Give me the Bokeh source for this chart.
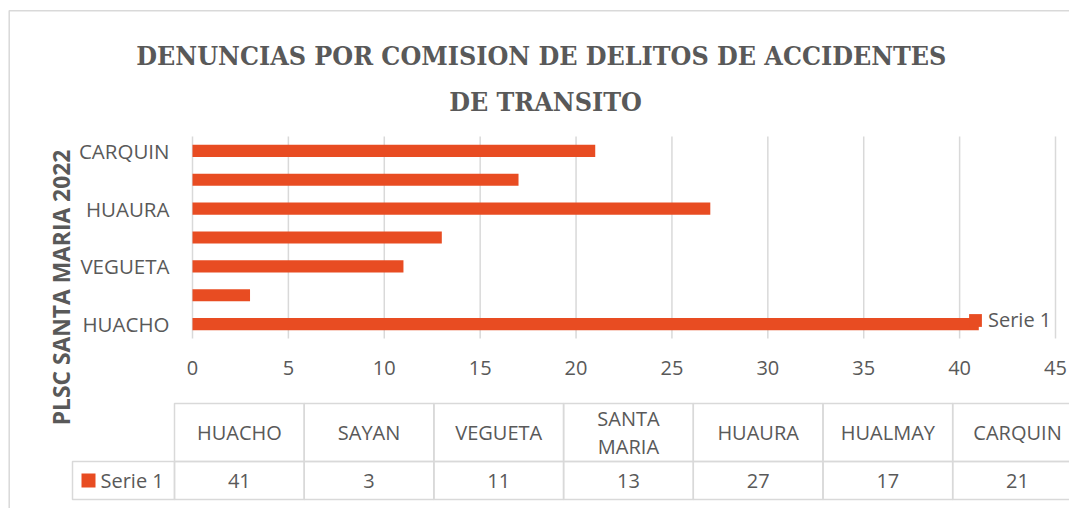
import math
from bokeh.plotting import figure
from bokeh.models import (Range1d, Label, ColumnDataSource, Legend, LegendItem, FixedTicker)
from bokeh.embed import file_html
from bokeh.resources import INLINE
from bokeh.core.properties import value

# ---------------- data ----------------
categories = ["HUACHO", "SAYAN", "VEGUETA", "SANTA MARIA", "HUAURA", "HUALMAY", "CARQUIN"]
values = [41, 3, 11, 13, 27, 17, 21]
series_name = "Serie 1"
x_ticks = [0, 5, 10, 15, 20, 25, 30, 35, 40, 45]
title_lines = ["DENUNCIAS POR COMISION DE DELITOS  DE ACCIDENTES", "DE TRANSITO"]
y_title = "PLSC SANTA MARIA 2022"

# ---------------- styles ----------------
BAR = "#E84C22"
TXT = "#595959"
GRID = "#D9D9D9"
FONT = "Open Sans"
TITLE_FONT = "DejaVu Serif Condensed"

n = len(categories)
pos = list(range(n))

W, H = 1069, 508
# plot area of the bars on the page (px)
PL, PR, PT, PB = 192.0, 1055.0, 136.0, 338.0
xmax = x_ticks[-1]
ux = (PR - PL) / xmax            # px per value unit
uy = (PB - PT) / n               # px per category
x_rng = Range1d((0 - PL) / ux, (W - PL) / ux)
y_rng = Range1d(-0.5 - (H - PB) / uy, -0.5 + PB / uy)

p = figure(width=W, height=H, output_backend="svg", toolbar_location=None,
           x_range=x_rng, y_range=y_rng, min_border=0, title=None)
p.extra_x_ranges = {"pg": Range1d(0, W)}
p.extra_y_ranges = {"pg": Range1d(-H, 0)}
p.outline_line_color = None
p.background_fill_color = "white"
p.border_fill_color = "white"
p.xgrid.visible = False
p.ygrid.visible = False

# vertical gridlines over the bar area
p.segment(x0=x_ticks, x1=x_ticks, y0=[-0.5] * len(x_ticks), y1=[n - 0.5] * len(x_ticks),
          line_color=GRID, line_width=1.5)

src = ColumnDataSource(dict(y=pos, val=values, cat=categories))
bars = p.hbar(y="y", left=0, right="val", height=0.42, source=src,
              fill_color=BAR, line_color=None)

# axes (fixed inside the canvas)
xa = p.xaxis[0]
xa.fixed_location = -0.5
xa.ticker = FixedTicker(ticks=x_ticks, minor_ticks=[])
xa.axis_line_color = None
xa.major_tick_line_color = None
xa.minor_tick_line_color = None
xa.major_tick_out = 0
xa.major_tick_in = 0
xa.major_label_standoff = 22
xa.major_label_text_font = FONT
xa.major_label_text_font_size = "20px"
xa.major_label_text_color = TXT

ya = p.yaxis[0]
ya.fixed_location = 0
ya.ticker = FixedTicker(ticks=[i for i in pos if i % 2 == 0], minor_ticks=[])
ya.major_label_overrides = {i: categories[i] for i in pos if i % 2 == 0}
ya.axis_line_color = None
ya.major_tick_line_color = None
ya.minor_tick_line_color = None
ya.major_tick_out = 0
ya.major_tick_in = 0
ya.major_label_standoff = 23
ya.major_label_text_font = FONT
ya.major_label_text_font_size = "20.5px"
ya.major_label_text_color = TXT

# legend
legend = Legend(items=[LegendItem(label=series_name, renderers=[bars])],
                location=(967, 175), glyph_width=16, glyph_height=16,
                label_height=16, label_standoff=5, padding=0, margin=0, spacing=0,
                label_text_font=FONT, label_text_font_size="20px",
                label_text_color=TXT, border_line_color=None,
                background_fill_alpha=0)
p.add_layout(legend)

# outer chart border (top and left visible)
p.quad(left=[8.7], right=[W + 50], top=[-10.2], bottom=[-H - 50],
       x_range_name="pg", y_range_name="pg",
       fill_color=None, line_color=GRID, line_width=1.5)

# title
for i, t in enumerate(title_lines):
    p.add_layout(Label(x=545, y=-(55 + 46 * i), text=t, x_range_name="pg", y_range_name="pg",
                       text_align="center", text_baseline="middle",
                       text_font=TITLE_FONT, text_font_style="bold",
                       text_font_size="26.6px", text_color=TXT))

# y axis title
p.add_layout(Label(x=61, y=-287, text=y_title, angle=math.pi / 2,
                   x_range_name="pg", y_range_name="pg",
                   text_align="center", text_baseline="middle",
                   text_font=FONT, text_font_style="bold",
                   text_font_size="22.8px", text_color=TXT))

# ---------------- data table ----------------
col0, colw = 174.0, 129.7
leg_left = 72.0
row_top, row_mid, row_bot = 403.0, 461.0, 499.0

ql, qr, qt, qb = [], [], [], []
for i in range(n):
    l = col0 + colw * i
    for (t, b) in [(row_top, row_mid), (row_mid, row_bot)]:
        ql.append(l); qr.append(l + colw); qt.append(-t); qb.append(-b)
ql.append(leg_left); qr.append(col0); qt.append(-row_mid); qb.append(-row_bot)
p.quad(left=ql, right=qr, top=qt, bottom=qb, x_range_name="pg", y_range_name="pg",
       fill_color=None, line_color=GRID, line_width=1.5)

# legend key in table
val_c = (row_mid + row_bot) / 2
p.quad(left=[81], right=[95], top=[-(val_c - 7)], bottom=[-(val_c + 7)],
       x_range_name="pg", y_range_name="pg", fill_color=BAR, line_color=None)

hx, hy, ht = [], [], []
head_c = (row_top + row_mid) / 2
for i, c in enumerate(categories):
    xc = col0 + colw * (i + 0.5)
    parts = c.split(" ") if len(c) > 8 else [c]
    m = len(parts)
    for k, part in enumerate(parts):
        hx.append(xc)
        hy.append(-(head_c + (k - (m - 1) / 2) * 28))
        ht.append(part)
vx = [col0 + colw * (i + 0.5) for i in range(len(values))]
vy = [-val_c] * len(values)
vt = [str(v) for v in values]

p.text(x=hx + vx, y=hy + vy, text=ht + vt, x_range_name="pg", y_range_name="pg",
       text_align="center", text_baseline="middle",
       text_font=value(FONT), text_font_size="20px", text_color=TXT)
p.text(x=[100], y=[-val_c], text=[series_name], x_range_name="pg", y_range_name="pg",
       text_align="left", text_baseline="middle",
       text_font=value(FONT), text_font_size="20px", text_color=TXT)

open("out.html", "w").write(file_html(p, INLINE))
